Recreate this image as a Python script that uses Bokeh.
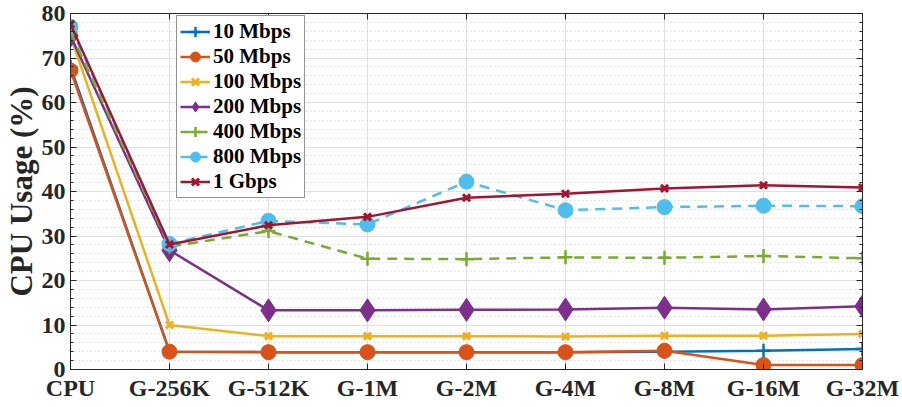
from bokeh.plotting import figure
from bokeh.models import Range1d, FixedTicker, SingleIntervalTicker, LinearAxis
from bokeh.embed import file_html
from bokeh.resources import INLINE

categories = ["CPU", "G-256K", "G-512K", "G-1M", "G-2M", "G-4M", "G-8M", "G-16M", "G-32M"]

mbps_10 = [68.0, 4.0, 3.9, 3.9, 3.9, 3.9, 4.0, 4.2, 4.6]
mbps_50 = [67.2, 4.0, 3.9, 3.9, 3.9, 3.9, 4.2, 1.0, 1.0]
mbps_100 = [75.0, 10.0, 7.5, 7.5, 7.5, 7.4, 7.6, 7.6, 8.0]
mbps_200 = [75.0, 26.8, 13.3, 13.3, 13.4, 13.5, 13.9, 13.5, 14.2]
mbps_400 = [75.8, 27.6, 31.1, 24.9, 24.8, 25.2, 25.1, 25.5, 25.0]
mbps_800 = [77.0, 28.2, 33.4, 32.6, 42.2, 35.8, 36.5, 36.8, 36.7]
gbps_1 = [77.6, 28.1, 32.4, 34.3, 38.6, 39.5, 40.7, 41.4, 40.9]

series = [
    ("10 Mbps", mbps_10, "#0072BD", "cross", 14, "solid"),
    ("50 Mbps", mbps_50, "#D95319", "circle", 15, "solid"),
    ("100 Mbps", mbps_100, "#EDB120", "x", 10, "solid"),
    ("200 Mbps", mbps_200, "#7E2F8E", "diamond", 23, "solid"),
    ("400 Mbps", mbps_400, "#77AC30", "cross", 14, "10 7"),
    ("800 Mbps", mbps_800, "#4DBEEE", "circle", 15, "10 7"),
    ("1 Gbps", gbps_1, "#A2142F", "x", 10, "solid"),
]

FONT = "Liberation Serif"
AX = "#262626"

xs = list(range(len(categories)))

p = figure(width=902, height=407, output_backend="svg", toolbar_location=None,
           x_range=Range1d(0, len(categories) - 1), y_range=Range1d(0, 80),
           min_border_left=68, min_border_right=40, min_border_top=13, min_border_bottom=38)

p.outline_line_color = AX
p.outline_line_width = 1

xt = FixedTicker(ticks=xs)
yt = SingleIntervalTicker(interval=10, num_minor_ticks=5)

p.xaxis.ticker = xt
p.xaxis.major_label_overrides = {i: c for i, c in enumerate(categories)}
p.yaxis.ticker = yt

for ax in [p.xaxis[0], p.yaxis[0]]:
    ax.axis_line_color = AX
    ax.major_tick_line_color = AX
    ax.minor_tick_line_color = AX
    ax.major_tick_in = 6
    ax.major_tick_out = 0
    ax.minor_tick_in = 3
    ax.minor_tick_out = 0
    ax.major_label_text_font = FONT
    ax.major_label_text_font_style = "bold"
    ax.major_label_text_font_size = "24px"
    ax.major_label_text_color = AX
p.xaxis.minor_tick_line_color = None
p.xaxis.major_label_standoff = 5
p.yaxis.major_label_standoff = 5

p.yaxis.axis_label = "CPU Usage (%)"
p.yaxis.axis_label_text_font = FONT
p.yaxis.axis_label_text_font_style = "bold"
p.yaxis.axis_label_text_font_size = "31px"
p.yaxis.axis_label_text_color = AX
p.yaxis.axis_label_standoff = 0

top = LinearAxis(ticker=xt, major_label_overrides={i: "" for i in xs},
                 major_label_text_font_size="1px", major_tick_in=6, major_tick_out=0,
                 minor_tick_line_color=None, axis_line_color=AX, major_tick_line_color=AX,
                 major_label_standoff=0)
right = LinearAxis(ticker=yt, major_label_overrides={v: "" for v in range(0, 81, 10)},
                   major_label_text_font_size="1px", major_tick_in=6, major_tick_out=0,
                   minor_tick_in=3, minor_tick_out=0, axis_line_color=AX, major_tick_line_color=AX,
                   minor_tick_line_color=AX, major_label_standoff=0)
p.add_layout(top, "above")
p.add_layout(right, "right")

p.xgrid.ticker = xt
p.xgrid.grid_line_color = "#e0e0e0"
p.ygrid.grid_line_color = "#e0e0e0"
p.ygrid.minor_grid_line_color = "#cfcfcf"
p.ygrid.minor_grid_line_dash = "1 3"

for name, vals, color, marker, size, dash in series:
    p.line(xs, vals, line_color=color, line_width=2.5, line_dash=dash, legend_label=name)
    if marker in ("circle", "diamond"):
        p.scatter(xs, vals, marker=marker, size=size, fill_color=color, line_color=color,
                  line_width=1, legend_label=name)
    else:
        p.scatter(xs, vals, marker=marker, size=size, fill_color=color, line_color=color,
                  line_width=3 if marker == "x" else 2.5, legend_label=name)

lg = p.legend[0]
lg.location = (106, 171)
lg.label_text_font = FONT
lg.label_text_font_style = "bold"
lg.label_text_font_size = "21px"
lg.label_text_color = "#000000"
lg.label_height = 25
lg.glyph_height = 25
lg.glyph_width = 30
lg.label_standoff = 3
lg.spacing = 0
lg.padding = 3
lg.margin = 0
lg.border_line_color = AX
lg.border_line_width = 1
lg.background_fill_alpha = 1

open("out.html", "w").write(file_html(p, INLINE))
